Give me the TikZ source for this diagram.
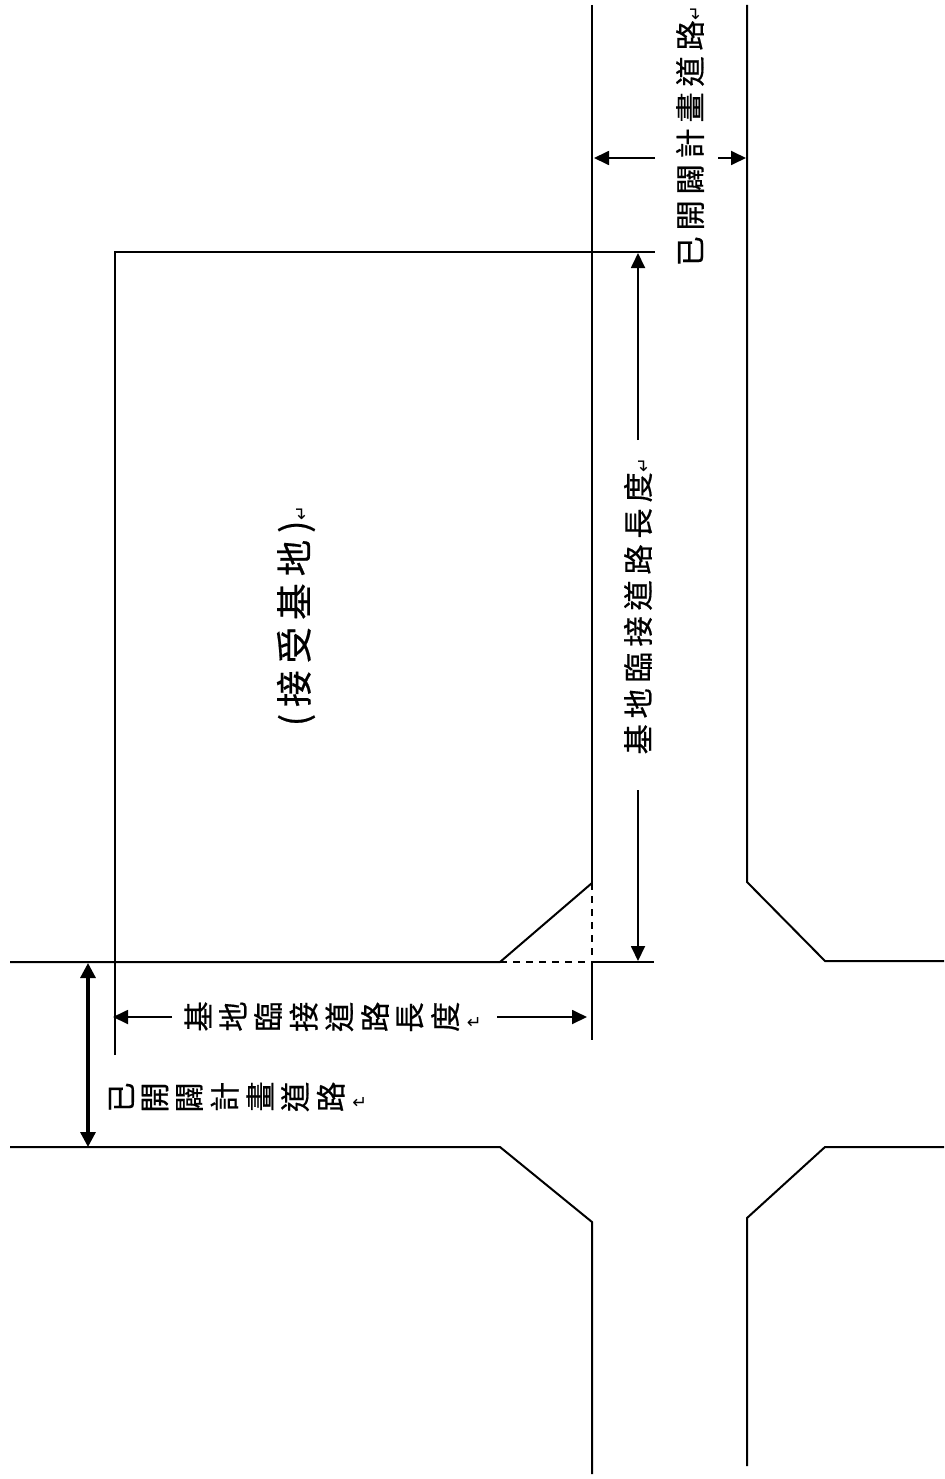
\documentclass[tikz,border=0pt]{standalone}
\usepackage{graphicx}
\usepackage{fontspec}
\usetikzlibrary{arrows.meta}
\newfontfamily\cjk[LetterSpace=19,FakeBold=0.5]{Noto Sans CJK TC}
\newfontfamily\cjkplain[FakeBold=0.5]{Noto Sans CJK TC}
\newfontfamily\symfont{DejaVu Sans}
\newcommand{\rg}[1]{\rotatebox[origin=c]{90}{\cjkplain #1}}
\newcommand{\gap}{\hspace{0.078cm}}
\newcommand{\ret}{{\symfont\fontsize{5pt}{6pt}\selectfont ↵}}
\begin{document}
\begin{tikzpicture}[x=0.01cm,y=-0.01cm,
  road/.style={line width=0.02cm,black},
  hid/.style={line width=0.016cm,black,dash pattern=on 0.07cm off 0.06cm},
  dim/.style={line width=0.018cm,black,-{Triangle[length=0.15cm,width=0.14cm]}},
  dimb/.style={line width=0.032cm,black,{Triangle[length=0.15cm,width=0.15cm]}-{Triangle[length=0.15cm,width=0.15cm]}},
  lab/.style={inner sep=0pt,outer sep=0pt,font=\fontsize{8.6pt}{10pt}\selectfont\cjk},
  biglab/.style={inner sep=0pt,outer sep=0pt,font=\fontsize{10.4pt}{13pt}\selectfont\cjk},
]
\useasboundingbox (0,0) rectangle (944,1479);
% corner points
\coordinate (lt) at (10,962);
\coordinate (lb) at (10,1147);
\coordinate (c1) at (500,962);
\coordinate (c2) at (592,883);
\coordinate (c3) at (592,962);
\coordinate (e1) at (654,962);
\coordinate (v1top) at (592,5);
\coordinate (v1end) at (592,1040);
\coordinate (c4) at (500,1147);
\coordinate (c5) at (592,1222);
\coordinate (v1bot) at (592,1474);
\coordinate (v2top) at (747,5);
\coordinate (r1) at (747,882);
\coordinate (r2) at (825,961);
\coordinate (r3) at (944,961);
\coordinate (r4) at (944,1147);
\coordinate (r5) at (825,1147);
\coordinate (r6) at (747,1218);
\coordinate (v2bot) at (747,1466);
\coordinate (s1) at (115,1055);
\coordinate (s2) at (115,252);
\coordinate (s3) at (655,252);
% roads and site
\draw[road] (lt) -- (c1) -- (c2);
\draw[road] (v1top) -- (c2);
\draw[hid] (c2) -- (c3);
\draw[hid] (c1) -- (c3);
\draw[road] (c3) -- (e1);
\draw[road] (c3) -- (v1end);
\draw[road] (lb) -- (c4) -- (c5) -- (v1bot);
\draw[road] (v2top) -- (r1) -- (r2) -- (r3);
\draw[road] (r4) -- (r5) -- (r6) -- (v2bot);
\draw[road] (s1) -- (s2) -- (s3);
% labels
\node[lab,rotate=90] (roadR) at (690,136) {已開闢計畫道路\ret};
\node[lab,rotate=90] (lenR) at (638,606) {基地臨接道路長度\ret};
\node[biglab,rotate=90] (site) at (296,616) {(接受基地)\ret};
\node[lab] (lenB) at (333,1017) {\rg{基}\gap\rg{地}\gap\rg{臨}\gap\rg{接}\gap\rg{道}\gap\rg{路}\gap\rg{長}\gap\rg{度}\gap\ret};
\node[lab] (roadB) at (238,1097) {\rg{已}\gap\rg{開}\gap\rg{闢}\gap\rg{計}\gap\rg{畫}\gap\rg{道}\gap\rg{路}\gap\ret};
% dimension arrows
\coordinate (a1s) at (655,158);
\coordinate (a1e) at (594,158);
\coordinate (a2s) at (718,158);
\coordinate (a2e) at (746,158);
\coordinate (a3s) at (638,440);
\coordinate (a3e) at (638,253);
\coordinate (a4s) at (638,790);
\coordinate (a4e) at (638,961);
\coordinate (a5s) at (172,1017);
\coordinate (a5e) at (113,1017);
\coordinate (a6s) at (497,1017);
\coordinate (a6e) at (587,1017);
\coordinate (a7s) at (88,963);
\coordinate (a7e) at (88,1147);
\draw[dim] (a1s) -- (a1e);
\draw[dim] (a2s) -- (a2e);
\draw[dim] (a3s) -- (a3e);
\draw[dim] (a4s) -- (a4e);
\draw[dim] (a5s) -- (a5e);
\draw[dim] (a6s) -- (a6e);
\draw[dimb] (a7s) -- (a7e);
\end{tikzpicture}
\end{document}
